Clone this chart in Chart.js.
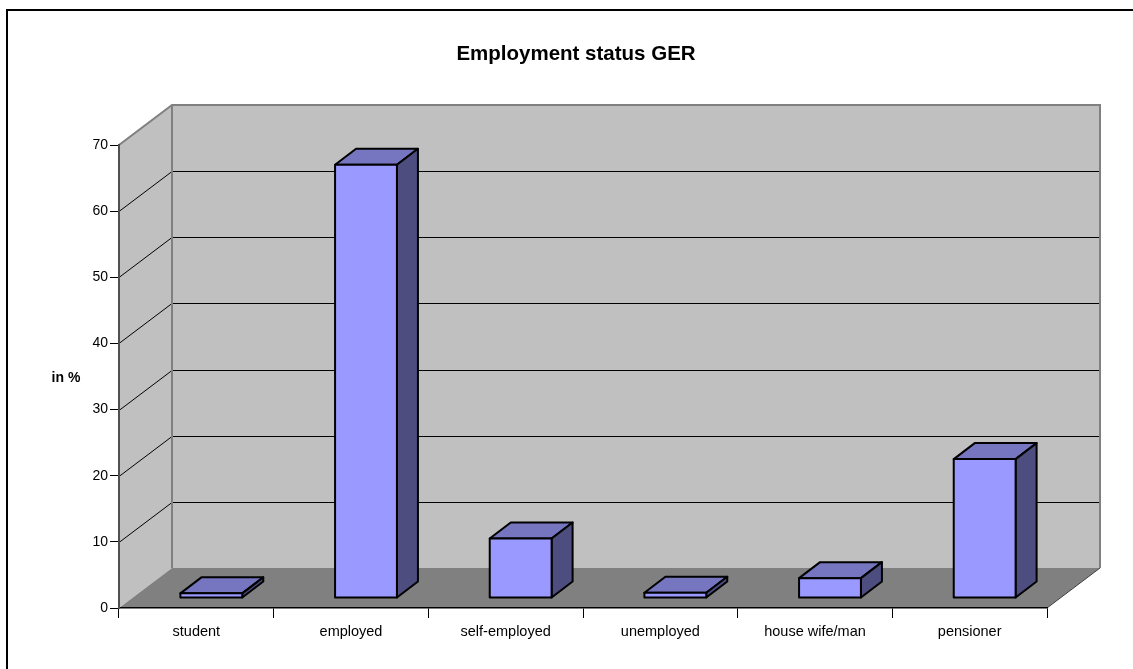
<!DOCTYPE html>
<html>
<head>
<meta charset="utf-8">
<title>Employment status GER</title>
<script src="https://cdn.jsdelivr.net/npm/chart.js@4.4.0/dist/chart.umd.min.js"></script>
<style>
  body { margin: 0; background: #fff; }
  #grafico { display: block; }
</style>
</head>
<body>
<canvas id="grafico" width="1133" height="669"></canvas>
<script>
const categorias = ['student', 'employed', 'self-employed', 'unemployed', 'house wife/man', 'pensioner'];
const valores = [0.7, 65.5, 9.0, 0.8, 3.0, 21.0];
const ejeY = [0, 10, 20, 30, 40, 50, 60, 70];

const fuente = "'Liberation Sans', Arial, sans-serif";

// profundidad del "suelo" 3D y de las barras
const FONDO = { dx: 53, dy: -40 };
const FRENTE_BARRA = { dx: 15, dy: -10 };
const PROF_BARRA = { dx: 21, dy: -16 };

const paredes3d = {
  id: 'paredes3d',
  beforeDraw(chart) {
    const ctx = chart.ctx;
    const y = chart.scales.y;
    const izq = chart.chartArea.left;
    const der = chart.chartArea.right;
    const arriba = y.getPixelForValue(ejeY[ejeY.length - 1]);
    const abajo = y.getPixelForValue(0);
    const dx = FONDO.dx, dy = FONDO.dy;

    ctx.save();
    // marco exterior
    ctx.strokeStyle = '#000';
    ctx.lineWidth = 2;
    ctx.beginPath();
    ctx.moveTo(7, 700);
    ctx.lineTo(7, 10);
    ctx.lineTo(1140, 10);
    ctx.stroke();

    // pared izquierda
    ctx.fillStyle = '#c0c0c0';
    ctx.beginPath();
    ctx.moveTo(izq, arriba);
    ctx.lineTo(izq + dx, arriba + dy);
    ctx.lineTo(izq + dx, abajo + dy);
    ctx.lineTo(izq, abajo);
    ctx.closePath();
    ctx.fill();
    // pared del fondo
    ctx.fillRect(izq + dx, arriba + dy, der - izq, abajo - arriba);
    // suelo
    ctx.fillStyle = '#808080';
    ctx.beginPath();
    ctx.moveTo(izq, abajo);
    ctx.lineTo(izq + dx, abajo + dy);
    ctx.lineTo(der + dx, abajo + dy);
    ctx.lineTo(der, abajo);
    ctx.closePath();
    ctx.fill();

    // lineas de cuadricula
    ctx.strokeStyle = '#000';
    ctx.lineWidth = 1;
    ejeY.slice(1, -1).forEach(v => {
      const py = Math.round(y.getPixelForValue(v)) + 0.5;
      ctx.beginPath();
      ctx.moveTo(izq, py);
      ctx.lineTo(izq + dx, py + dy);
      ctx.lineTo(der + dx, py + dy);
      ctx.stroke();
    });

    // bordes de las paredes
    ctx.strokeStyle = '#808080';
    ctx.lineWidth = 2;
    ctx.beginPath();
    ctx.moveTo(izq, arriba);
    ctx.lineTo(izq + dx, arriba + dy);
    ctx.lineTo(der + dx, arriba + dy);
    ctx.lineTo(der + dx, abajo + dy);
    ctx.moveTo(izq + dx, arriba + dy);
    ctx.lineTo(izq + dx, abajo + dy);
    ctx.stroke();
    ctx.strokeStyle = '#404040';
    ctx.lineWidth = 1;
    ctx.beginPath();
    ctx.moveTo(der, abajo);
    ctx.lineTo(der + dx, abajo + dy);
    ctx.stroke();

    // titulo del eje y (horizontal)
    ctx.fillStyle = '#000';
    ctx.font = 'bold 14px ' + fuente;
    ctx.textAlign = 'center';
    ctx.textBaseline = 'middle';
    ctx.fillText('in %', 66, 378);
    ctx.restore();
  }
};

const barras3d = {
  id: 'barras3d',
  afterDatasetsDraw(chart) {
    const ctx = chart.ctx;
    const meta = chart.getDatasetMeta(0);
    ctx.save();
    ctx.lineWidth = 2;
    ctx.lineJoin = 'round';
    ctx.strokeStyle = '#000';
    meta.data.forEach(barra => {
      const p = barra.getProps(['x', 'y', 'base', 'width'], true);
      const x1 = p.x - p.width / 2 + FRENTE_BARRA.dx;
      const x2 = p.x + p.width / 2 + FRENTE_BARRA.dx;
      const yt = p.y + FRENTE_BARRA.dy;
      const yb = p.base + FRENTE_BARRA.dy;
      const bx = PROF_BARRA.dx, by = PROF_BARRA.dy;

      // cara superior
      ctx.fillStyle = '#7575c0';
      ctx.beginPath();
      ctx.moveTo(x1, yt);
      ctx.lineTo(x1 + bx, yt + by);
      ctx.lineTo(x2 + bx, yt + by);
      ctx.lineTo(x2, yt);
      ctx.closePath();
      ctx.fill();
      ctx.stroke();
      // cara lateral
      ctx.fillStyle = '#4d4d80';
      ctx.beginPath();
      ctx.moveTo(x2, yt);
      ctx.lineTo(x2 + bx, yt + by);
      ctx.lineTo(x2 + bx, yb + by);
      ctx.lineTo(x2, yb);
      ctx.closePath();
      ctx.fill();
      ctx.stroke();
      // cara frontal
      ctx.fillStyle = '#9999ff';
      ctx.beginPath();
      ctx.rect(x1, yt, x2 - x1, yb - yt);
      ctx.fill();
      ctx.stroke();
    });
    ctx.restore();
  }
};

new Chart(document.getElementById('grafico'), {
  type: 'bar',
  data: {
    labels: categorias,
    datasets: [{
      label: 'in %',
      data: valores,
      backgroundColor: 'rgba(0,0,0,0)',
      borderWidth: 0,
      categoryPercentage: 1,
      barPercentage: 0.4
    }]
  },
  options: {
    responsive: false,
    animation: false,
    layout: { padding: { left: 19, right: 0, top: 0, bottom: 0 } },
    plugins: {
      legend: { display: false },
      tooltip: { enabled: false },
      title: {
        display: true,
        text: 'Employment status GER',
        color: '#000',
        font: { family: fuente, size: 20.5, weight: 'bold' },
        padding: { top: 42, bottom: 78.4 }
      }
    },
    scales: {
      x: {
        grid: { drawOnChartArea: false, drawTicks: true, tickLength: 10, color: '#000', offset: true },
        border: { display: true, color: '#000', width: 1.5 },
        ticks: { color: '#000', font: { family: fuente, size: 14.5 }, padding: 5, autoSkip: false, maxRotation: 0 },
        afterFit: scale => { scale.height = 61; }
      },
      y: {
        min: ejeY[0],
        max: ejeY[ejeY.length - 1],
        grid: { drawOnChartArea: false, drawTicks: true, tickLength: 9, color: '#000' },
        border: { display: true, color: '#505050', width: 2 },
        ticks: { stepSize: 10, color: '#000', font: { family: fuente, size: 14 }, padding: 2 },
        afterFit: scale => { scale.width = 100; }
      },
      // eje vacio a la derecha para dejar sitio a la profundidad 3D
      derecha: {
        type: 'linear',
        position: 'right',
        display: true,
        grid: { display: false },
        border: { display: false },
        ticks: { display: false },
        afterFit: scale => { scale.width = 86; }
      }
    }
  },
  plugins: [paredes3d, barras3d]
});
</script>
</body>
</html>
